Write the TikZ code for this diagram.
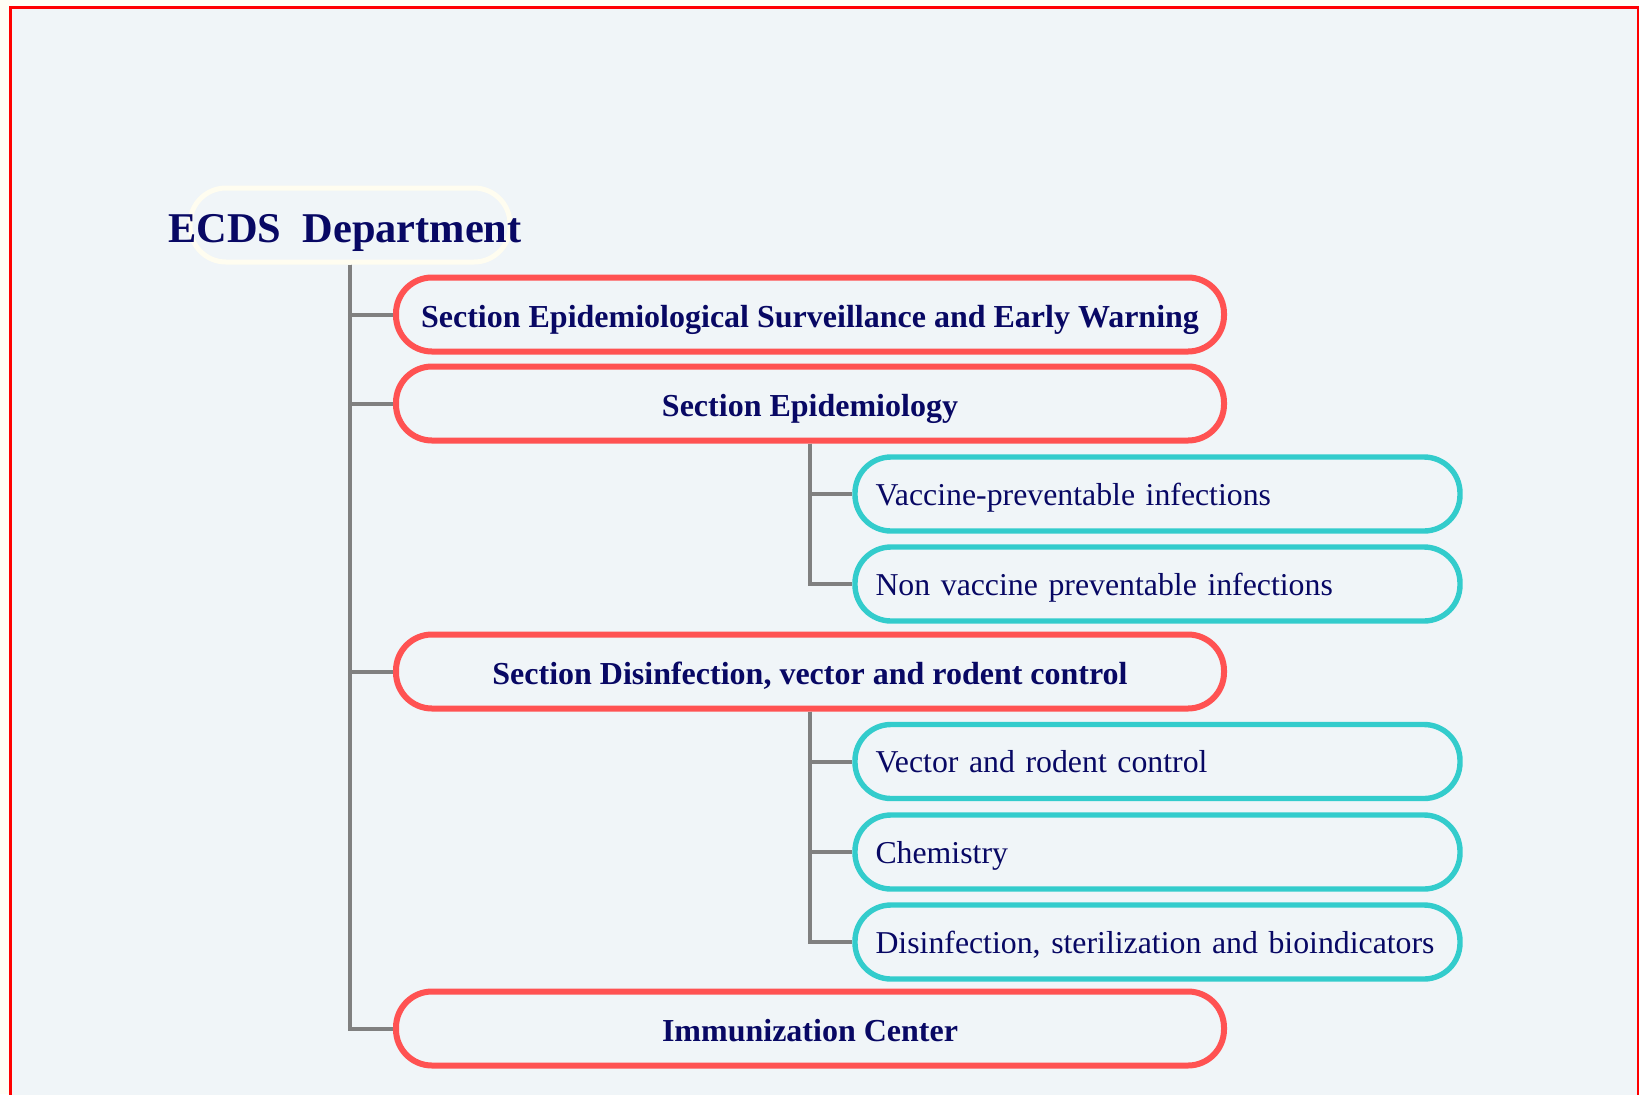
\documentclass[tikz,border=0pt]{standalone}
\usepackage{fontspec}
\setmainfont{Liberation Serif}
\usetikzlibrary{positioning}

\definecolor{pagebg}{RGB}{255,254,245}
\definecolor{panelbg}{RGB}{240,245,248}
\definecolor{secred}{RGB}{255,82,82}
\definecolor{subcyan}{RGB}{51,204,204}
\definecolor{inkblue}{RGB}{8,8,100}
\definecolor{rootrim}{RGB}{255,253,240}

\tikzset{
  pill/.style={draw, rounded corners=18pt, minimum height=37pt, inner sep=0pt, text=inkblue},
  secbox/.style={pill, draw=secred, line width=3pt, minimum width=414pt,
    text height=14.5pt, text depth=1.5pt, font=\fontsize{16}{19}\selectfont\bfseries},
  subbox/.style={pill, draw=subcyan, line width=2.7pt, minimum width=302.5pt,
    text width=282pt, align=left, text height=13pt, text depth=2pt, font=\fontsize{15.9}{19}\selectfont},
  rootbox/.style={pill, draw=rootrim, line width=2.5pt, minimum width=160pt},
  link/.style={draw=gray, line width=2pt},
}

\begin{document}
\begin{tikzpicture}[x=0.5pt,y=-0.5pt]
    % page and panel
    \useasboundingbox (0,0) rectangle (1639,1094);
    \fill[pagebg] (0,0) rectangle (1639,1094);
    \filldraw[fill=panelbg, draw=red, line width=1.25pt] (10.5,7.5) rectangle (1638,1120);
    % department
    \node[rootbox] (root) at (350,225) {};
    \node[anchor=base, text=inkblue, inner sep=0pt, font=\fontsize{21.2}{25}\selectfont\bfseries]
        (roottitle) at (345,242) {ECDS\ \ Department};
    % sections
    \node[secbox] (sec1) at (810,314.5) {Section Epidemiological Surveillance and Early Warning};
    \node[secbox] (sec2) at (810,403.5) {Section Epidemiology};
    \node[secbox] (sec3) at (810,671.5) {Section Disinfection, vector and rodent control};
    \node[secbox] (sec4) at (810,1028.5) {Immunization Center};
    % units
    \node[subbox] (sub1) at (1157.5,494) {Vaccine-preventable infections};
    \node[subbox] (sub2) at (1157.5,584) {Non vaccine preventable infections};
    \node[subbox] (sub3) at (1157.5,761.5) {Vector and rodent control};
    \node[subbox] (sub4) at (1157.5,852) {Chemistry};
    \node[subbox] (sub5) at (1157.5,942) {Disinfection, sterilization and bioindicators};
    % links
    \foreach \s in {sec1,sec2,sec3,sec4}
        \draw[link] (root.south) |- (\s.west);
    \foreach \s in {sub1,sub2}
        \draw[link] (sec2.south) |- (\s.west);
    \foreach \s in {sub3,sub4,sub5}
        \draw[link] (sec3.south) |- (\s.west);
\end{tikzpicture}
\end{document}
